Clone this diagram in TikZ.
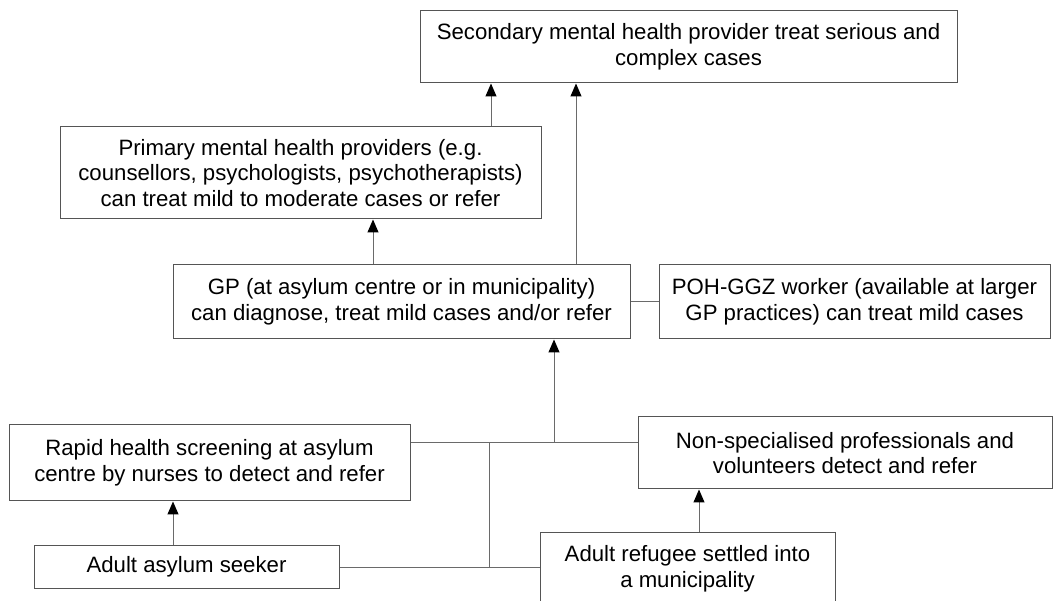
\documentclass[tikz,border=0pt]{standalone}
\usepackage{fontspec}
\setmainfont{Liberation Sans}
\usetikzlibrary{arrows.meta}
\definecolor{edgegray}{HTML}{555555}
\definecolor{linegray}{HTML}{6A6A6A}
\tikzset{
  box/.style={draw=edgegray, line width=1pt, rectangle, align=center,
    inner sep=0pt, font=\fontsize{22.2}{25.5}\selectfont, text=black},
  link/.style={draw=linegray, line width=1pt},
  uparrow/.style={link, -{Triangle[length=13pt,width=11pt,color=black]}}
}
\begin{document}
\begin{tikzpicture}[x=1pt,y=-1pt]
\useasboundingbox (0,0) rectangle (1053,601);
\clip (0,0) rectangle (1053,601);

% boxes
\node[box, minimum width=537pt, minimum height=72pt] (sec) at (688.5,47)
  {Secondary mental health provider treat serious and\\complex cases};
\node[box, minimum width=481pt, minimum height=92pt] (prim) at (300.5,173)
  {Primary mental health providers (e.g.\\counsellors, psychologists, psychotherapists)\\can treat mild to moderate cases or refer};
\node[box, minimum width=457pt, minimum height=74pt] (gp) at (401.5,302)
  {GP (at asylum centre or in municipality)\\can diagnose, treat mild cases and/or refer};
\node[box, minimum width=391pt, minimum height=74pt] (poh) at (854.5,302)
  {POH-GGZ worker (available at larger\\GP practices) can treat mild cases};
\node[box, minimum width=401pt, minimum height=76pt] (rapid) at (209.5,463)
  {Rapid health screening at asylum\\centre by nurses to detect and refer};
\node[box, minimum width=414pt, minimum height=72pt] (nonspec) at (845,453)
  {Non-specialised professionals and\\volunteers detect and refer};
\node[box, minimum width=305pt, minimum height=42pt] (asylum) at (186.5,567)
  {Adult asylum seeker};
\node[box, minimum width=295pt, minimum height=72pt] (refugee) at (687.5,569)
  {Adult refugee settled into\\a municipality};

% junction points
\coordinate (hub) at (554,443);
\coordinate (split) at (489,443);
\coordinate (join) at (489,567);
\coordinate (xprim) at (491,0);
\coordinate (xgpprim) at (373,0);
\coordinate (xgpsec) at (576,0);
\coordinate (xasy) at (173,0);
\coordinate (xref) at (699,0);

% upward referrals
\draw[uparrow] (prim.north -| xprim) -- (sec.south -| xprim);
\draw[uparrow] (gp.north -| xgpprim) -- (prim.south -| xgpprim);
\draw[uparrow] (gp.north -| xgpsec) -- (sec.south -| xgpsec);
\draw[uparrow] (hub) -- (gp.south -| hub);
\draw[uparrow] (asylum.north -| xasy) -- (rapid.south -| xasy);
\draw[uparrow] (refugee.north -| xref) -- (nonspec.south -| xref);

% plain connectors
\draw[link] (gp.east) -- (poh.west);
\draw[link] (rapid.east |- hub) -- (nonspec.west |- hub);
\draw[link] (split) -- (join);
\draw[link] (asylum.east) -- (join);
\draw[link] (refugee.west |- join) -- (join);
\end{tikzpicture}
\end{document}
